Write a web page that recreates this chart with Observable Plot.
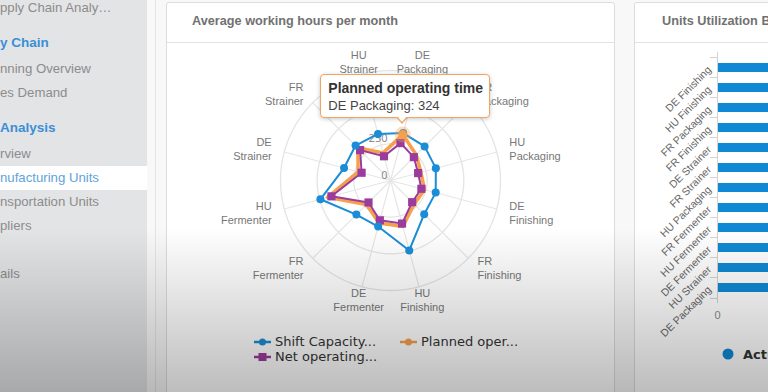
<!DOCTYPE html>
<html><head><meta charset="utf-8">
<script src="https://cdn.jsdelivr.net/npm/d3@7"></script>
<script src="https://cdn.jsdelivr.net/npm/@observablehq/plot@0.6"></script>
<style>
html,body{margin:0;padding:0;width:768px;height:392px;overflow:hidden;background:#f8f8f8;font-family:"Liberation Sans",Arial,sans-serif;}
#page{position:relative;width:768px;height:392px;overflow:hidden;}
.abs{position:absolute;}
.sidebar{left:0;top:0;width:147px;height:392px;background:#e3e4e6;overflow:hidden;}
.nav{position:absolute;left:0;white-space:nowrap;font-size:13.2px;color:#8c8c8c;line-height:20px;}
.nav.h{color:#3b8fd6;font-weight:bold;font-size:13.5px;}
.nav.sel{color:#5ea3db;}
.selrow{left:0;top:166px;width:147px;height:24px;background:#fff;}
.vline{top:0;width:1px;height:392px;background:#e4e4e4;}
.card{top:2px;height:420px;background:#fff;border:1px solid #dcdcdc;border-radius:3px;box-sizing:border-box;overflow:hidden;}
.hline{height:1px;background:#e2e2e2;}
.title{font-size:12.7px;font-weight:bold;color:#717171;white-space:nowrap;line-height:16px;}
.leg{font-family:"DejaVu Sans",Verdana,sans-serif;font-size:13px;color:#333;white-space:nowrap;line-height:16px;}
#tip{width:170px;height:44px;background:#fff;border:1px solid #f2a461;border-radius:4px;box-sizing:border-box;box-shadow:0 1px 4px rgba(0,0,0,0.22);padding:5px 0 0 7px;}
#tip .t1{font-size:14px;font-weight:bold;color:#333;line-height:17px;white-space:nowrap;}
#tip .t2{font-size:13px;color:#444;line-height:17px;white-space:nowrap;}
#tip:before{content:"";position:absolute;left:75px;bottom:-7px;border-left:6px solid transparent;border-right:6px solid transparent;border-top:7px solid #f2a461;}
#tip:after{content:"";position:absolute;left:76px;bottom:-5px;border-left:5px solid transparent;border-right:5px solid transparent;border-top:6px solid #fff;}
#shade{left:0;top:228px;width:768px;height:164px;background:linear-gradient(rgba(0,0,0,0),rgba(0,0,0,0.26));pointer-events:none;}
svg{overflow:visible;}
</style>
</head><body>
<div id="page">
  <div class="abs sidebar" id="sidebar"><div class="abs selrow"></div></div>
  <div class="abs vline" style="left:155px"></div>
  <div class="abs card" style="left:166px;width:449px"></div>
  <div class="abs card" style="left:634px;width:200px"></div>
  <div class="abs hline" style="left:167px;top:42px;width:447px"></div>
  <div class="abs hline" style="left:635px;top:42px;width:133px"></div>
  <div class="abs title" style="left:192px;top:13px">Average working hours per month</div>
  <div class="abs title" style="left:662px;top:13px">Units Utilization B</div>
  <div class="abs" id="radar" style="left:167px;top:43px"></div>
  <div class="abs" id="bars" style="left:634px;top:43px;width:134px;height:300px;overflow:hidden"></div>
  <div class="abs" id="legend"></div>
  <div class="abs leg" style="left:722px;top:347px"><svg width="12" height="12" style="vertical-align:-1px"><circle cx="6" cy="6" r="5.5" fill="#0f89d4"/></svg><b style="margin-left:9px">Actu</b></div>
  <div class="abs" id="tip"><div class="t1" id="tipTitle"></div><div class="t2" id="tipText"></div></div>
  <div class="abs" id="shade"></div>
</div>
<script>
// ---------- data ----------
const categories = ["DE Packaging","FR Packaging","HU Packaging","DE Finishing","FR Finishing","HU Finishing","DE Fermenter","FR Fermenter","HU Fermenter","DE Strainer","FR Strainer","HU Strainer"];
const shiftCapacity    = [335, 329, 320, 319, 325, 494, 325, 329, 495, 328, 337, 329];
const plannedOperating = [324, 248, 215, 240, 228, 325, 300, 232, 445, 228, 315, 195];
const netOperating     = [264, 225, 195, 218, 209, 304, 281, 212, 417, 204, 293, 171];
const radialTicks = [0, 250, 500, 750];
const tickLabels = [0, 250];
const seriesNames = ["Shift Capacity...", "Planned oper...", "Net operating..."];
const seriesColors = ["#1a8dd6", "#f5a04c", "#9b3b9d"];
const tooltipSeries = "Planned operating time";

const utilCategories = ["DE Finishing","HU Finishing","FR Packaging","FR Finishing","DE Strainer","FR Strainer","HU Packaging","FR Fermenter","HU Fermenter","DE Fermenter","HU Strainer","DE Packaging"];
const utilActual = [88, 86, 85, 84, 83, 82, 81, 80, 79, 78, 77, 76];
const utilTicks = [0];

const navItems = [
  {t:"pply Chain Analy…", y:8, c:""},
  {t:"y Chain", y:43, c:"h"},
  {t:"nning Overview", y:69, c:""},
  {t:"es Demand", y:93, c:""},
  {t:"Analysis", y:128, c:"h"},
  {t:"rview", y:154, c:""},
  {t:"nufacturing Units", y:178, c:"sel"},
  {t:"nsportation Units", y:202, c:""},
  {t:"pliers", y:226, c:""},
  {t:"ails", y:274, c:""}
];

// ---------- sidebar ----------
const sb = document.getElementById("sidebar");
navItems.forEach(n => {
  const d = document.createElement("div");
  d.className = "nav " + n.c; d.textContent = n.t; d.style.top = (n.y - 10) + "px";
  sb.appendChild(d);
});

// ---------- radar ----------
const maxV = d3.max(radialTicks);
const R = 110, cx = 223, cy = 137;
const ang = i => (15 + 30 * i) * Math.PI / 180;
const pts = vals => vals.map((v, i) => ({cat: categories[i], v, x: v * Math.sin(ang(i)), y: v * Math.cos(ang(i))}));
const rings = radialTicks.filter(t => t > 0).flatMap(t => d3.range(0, 361, 3).map(a => ({t, x: t * Math.sin(a * Math.PI / 180), y: t * Math.cos(a * Math.PI / 180)})));
const labR = maxV * 1.118;
const labels = categories.map((c, i) => {
  const s = Math.sin(ang(i));
  return {text: c.replace(" ", "\n"), x: labR * s, y: labR * Math.cos(ang(i)), anchor: Math.abs(s) < 0.5 ? "middle" : (s > 0 ? "start" : "end")};
});
const blue = pts(shiftCapacity), orange = pts(plannedOperating), purple = pts(netOperating);
const labelMark = anchor => Plot.text(labels.filter(l => l.anchor === anchor), {x:"x", y:"y", text:"text", textAnchor: anchor, fontSize: 11, fill:"#777", lineHeight: 1.27, fontFamily:"Liberation Sans, Arial, sans-serif"});

const radar = Plot.plot({
  width: 446, height: 300, margin: 0,
  style: {background: "transparent", overflow: "visible", maxWidth: "none"},
  x: {type: "linear", domain: [-maxV, maxV], range: [cx - R, cx + R], axis: null},
  y: {type: "linear", domain: [-maxV, maxV], range: [cy + R, cy - R], axis: null},
  marks: [
    Plot.line(rings, {x:"x", y:"y", z:"t", stroke:"#e4e4e4", strokeWidth: 1.3}),
    Plot.link(categories, {x1: 0, y1: 0, x2: (d, i) => maxV * Math.sin(ang(i)), y2: (d, i) => maxV * Math.cos(ang(i)), stroke:"#e6e6e6", strokeWidth: 1.2}),
    Plot.text(tickLabels, {x: 0, y: d => d, text: d => String(d), textAnchor:"end", dx: -3, dy: -5, fill:"#8a8a8a", fontSize: 11}),
    labelMark("middle"), labelMark("start"), labelMark("end"),
    Plot.line(orange, {x:"x", y:"y", curve:"linear-closed", stroke: seriesColors[1], strokeWidth: 3.5, strokeLinejoin:"round"}),
    Plot.line(purple, {x:"x", y:"y", curve:"linear-closed", stroke: seriesColors[2], strokeWidth: 2}),
    Plot.dot(purple, {x:"x", y:"y", symbol:"square", r: 4.6, fill: seriesColors[2]}),
    Plot.line(blue, {x:"x", y:"y", curve:"linear-closed", stroke: seriesColors[0], strokeWidth: 2}),
    Plot.dot(blue, {x:"x", y:"y", r: 4, fill: seriesColors[0]}),
    Plot.dot([orange[0]], {x:"x", y:"y", r: 8, fill: seriesColors[1], fillOpacity: 0.35}),
    Plot.dot([orange[0]], {x:"x", y:"y", r: 4.5, fill: seriesColors[1]})
  ]
});
document.getElementById("radar").appendChild(radar);

// tooltip anchored to the DE Packaging planned point
const px = 167 + radar.scale("x").apply(orange[0].x);
const py = 43 + radar.scale("y").apply(orange[0].y);
const tip = document.getElementById("tip");
tip.style.left = (px - 82) + "px";
tip.style.top = (py - 60) + "px";
document.getElementById("tipTitle").textContent = tooltipSeries;
document.getElementById("tipText").textContent = categories[0] + ": " + plannedOperating[0];

// legend
const legend = document.getElementById("legend");
const legPos = [{x:254, y:342}, {x:400, y:342}, {x:254, y:357}];
seriesNames.forEach((n, i) => {
  const d = document.createElement("div");
  d.className = "abs leg";
  d.style.left = legPos[i].x + "px"; d.style.top = (legPos[i].y - 8) + "px";
  const sym = i === 2
    ? `<rect x="4.5" y="4" width="8" height="8" fill="${seriesColors[i]}"/>`
    : `<circle cx="8.5" cy="8" r="3.5" fill="${seriesColors[i]}"/>`;
  d.innerHTML = `<svg width="17" height="16" style="vertical-align:top"><line x1="0" y1="8" x2="17" y2="8" stroke="${seriesColors[i]}" stroke-width="2.5"/>${sym}</svg><span style="margin-left:4px">${n}</span>`;
  legend.appendChild(d);
});

// ---------- bars ----------
const barData = utilCategories.map((c, i) => ({c, v: utilActual[i]}));
const bars = Plot.plot({
  width: 420, height: 290, marginLeft: 83, marginTop: 9, marginBottom: 30, marginRight: 0,
  style: {background:"transparent", fontFamily:"Liberation Sans, Arial, sans-serif", maxWidth:"none", overflow:"visible"},
  x: {domain: [0, 100], range: [83, 400], axis: null},
  y: {domain: utilCategories, paddingInner: 0.57, paddingOuter: 0.285, axis: null},
  marks: [
    Plot.barX(barData, {x:"v", y:"c", fill:"#0f89d4"}),
    Plot.ruleX([0], {stroke:"#d2d2d2"}),
    Plot.ruleY(utilCategories, {y: d => d, x1: 0, x2: 0, insetLeft: -7, dy: -10.46, stroke:"#d2d2d2"}),
    Plot.ruleY([utilCategories[utilCategories.length - 1]], {y: d => d, x1: 0, x2: 0, insetLeft: -7, dy: 10.46, stroke:"#d2d2d2"}),
    Plot.axisY({tickSize: 0, tickPadding: 8, tickRotate: -45, fontSize: 10.5, fill:"#666", label: null}),
    Plot.axisX({ticks: utilTicks, tickSize: 0, tickPadding: 8, fontSize: 11, fill:"#8a8a8a", label: null})
  ]
});
document.getElementById("bars").appendChild(bars);
</script>
</body></html>
